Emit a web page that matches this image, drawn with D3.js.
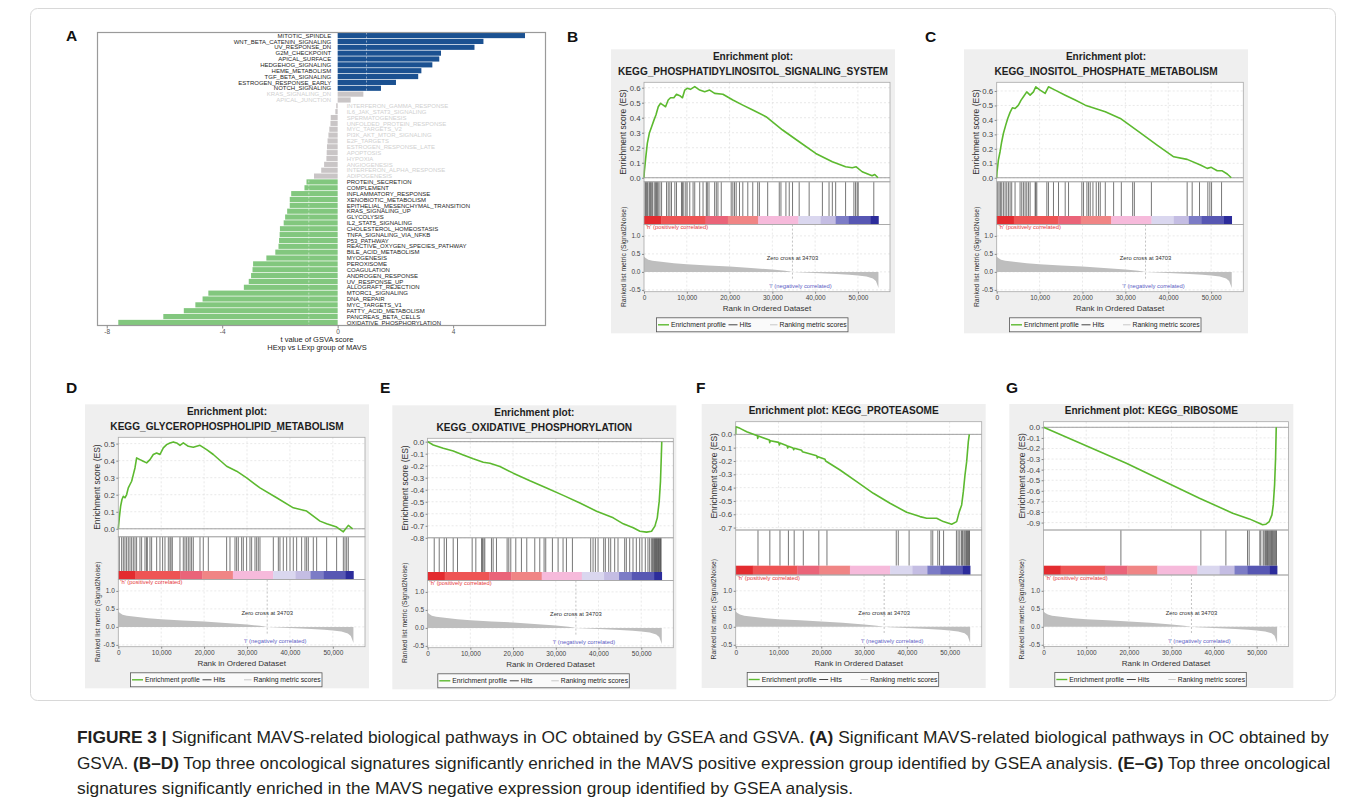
<!DOCTYPE html>
<html>
<head>
<meta charset="utf-8">
<script src="https://cdn.jsdelivr.net/npm/d3@7"></script>
<style>
  body { margin: 0; background: #fff; }
  svg { display: block; }
  text { font-family: "Liberation Sans", Arial, sans-serif; }
</style>
</head>
<body>
<div id="fig"></div>
<script>
// ---------- Panel A data (GSVA t values) ----------
var gsvaPathways = ["MITOTIC_SPINDLE", "WNT_BETA_CATENIN_SIGNALING", "UV_RESPONSE_DN", "G2M_CHECKPOINT",
  "APICAL_SURFACE", "HEDGEHOG_SIGNALING", "HEME_METABOLISM", "TGF_BETA_SIGNALING", "ESTROGEN_RESPONSE_EARLY",
  "NOTCH_SIGNALING", "KRAS_SIGNALING_DN", "APICAL_JUNCTION", "INTERFERON_GAMMA_RESPONSE", "IL6_JAK_STAT3_SIGNALING",
  "SPERMATOGENESIS", "UNFOLDED_PROTEIN_RESPONSE", "MYC_TARGETS_V2", "PI3K_AKT_MTOR_SIGNALING", "E2F_TARGETS",
  "ESTROGEN_RESPONSE_LATE", "APOPTOSIS", "HYPOXIA", "ANGIOGENESIS", "INTERFERON_ALPHA_RESPONSE", "ADIPOGENESIS",
  "PROTEIN_SECRETION", "COMPLEMENT", "INFLAMMATORY_RESPONSE", "XENOBIOTIC_METABOLISM",
  "EPITHELIAL_MESENCHYMAL_TRANSITION", "KRAS_SIGNALING_UP", "GLYCOLYSIS", "IL2_STAT5_SIGNALING",
  "CHOLESTEROL_HOMEOSTASIS", "TNFA_SIGNALING_VIA_NFKB", "P53_PATHWAY", "REACTIVE_OXYGEN_SPECIES_PATHWAY",
  "BILE_ACID_METABOLISM", "MYOGENESIS", "PEROXISOME", "COAGULATION", "ANDROGEN_RESPONSE", "UV_RESPONSE_UP",
  "ALLOGRAFT_REJECTION", "MTORC1_SIGNALING", "DNA_REPAIR", "MYC_TARGETS_V1", "FATTY_ACID_METABOLISM",
  "PANCREAS_BETA_CELLS", "OXIDATIVE_PHOSPHORYLATION"];
var gsvaTValues = [6.49, 5.05, 4.74, 3.58, 3.52, 3.28, 2.90, 2.79, 2.02, 1.50, 0.89, 0.45,
  -0.05, -0.08, -0.24, -0.25, -0.29, -0.32, -0.35, -0.37, -0.38, -0.39, -0.47, -0.57, -0.82,
  -1.08, -1.15, -1.61, -1.66, -1.66, -1.75, -1.82, -1.87, -2.00, -2.01, -2.03, -2.05, -2.16, -2.47,
  -2.93, -2.95, -3.00, -3.08, -3.25, -4.48, -4.68, -4.93, -5.33, -6.04, -7.60];
var gsvaTicks = [-8, -4, 0, 4];

// ---------- GSEA shared data ----------
var rankTicks = [0, 10000, 20000, 30000, 40000, 50000];
var metricTicks = [-0.5, 0.0, 0.5, 1.0];
var metricRanks = [0, 300, 1000, 2000, 4000, 7000, 10000, 15000, 20000, 25000, 30000, 33000, 34703,
  36000, 40000, 45000, 48000, 50000, 52000, 53500, 54200, 54600, 54800];
var metricValues = [0.43, 0.39, 0.34, 0.31, 0.28, 0.24, 0.21, 0.18, 0.15, 0.11, 0.065, 0.03, 0,
  -0.01, -0.03, -0.06, -0.08, -0.10, -0.13, -0.18, -0.25, -0.38, -0.45];
var colourBarBreaks = [0, 4000, 14400, 19600, 26700, 36100, 41300, 44800, 47800, 53000, 54800];
var colourBarColours = ["#e32b2f", "#ee5454", "#ea6479", "#f08585", "#f6badb", "#dad7ef", "#c4bde3",
  "#7c7cc6", "#5757b3", "#2c2c9b"];
var zeroCross = 34703;

var gseaTitles = [
  ["Enrichment plot:", "KEGG_PHOSPHATIDYLINOSITOL_SIGNALING_SYSTEM"],
  ["Enrichment plot:", "KEGG_INOSITOL_PHOSPHATE_METABOLISM"],
  ["Enrichment plot:", "KEGG_GLYCEROPHOSPHOLIPID_METABOLISM"],
  ["Enrichment plot:", "KEGG_OXIDATIVE_PHOSPHORYLATION"],
  ["Enrichment plot: KEGG_PROTEASOME"],
  ["Enrichment plot: KEGG_RIBOSOME"]
];

// running enrichment score, [rank, ES]
var esB = [[0, 0], [78, 0.04], [388, 0.129], [775, 0.229], [1240, 0.296], [1783, 0.34], [2325, 0.384],
  [2790, 0.418], [3333, 0.473], [3875, 0.496], [4495, 0.484], [5038, 0.473], [5658, 0.518], [6200, 0.533],
  [6975, 0.533], [7595, 0.556], [8370, 0.547], [8990, 0.533], [9533, 0.584], [10075, 0.596], [10850, 0.589],
  [11858, 0.607], [13020, 0.584], [14183, 0.573], [15345, 0.584], [16508, 0.562], [18445, 0.556],
  [20770, 0.518], [23095, 0.484], [25420, 0.451], [28520, 0.407], [32395, 0.318], [36270, 0.24],
  [40145, 0.162], [44020, 0.107], [47120, 0.073], [48670, 0.067], [49600, 0.073], [50995, 0.04],
  [53320, 0.013], [53940, 0.022], [54700, 0]];
var esC = [[0, 0], [78, 0.041], [390, 0.122], [779, 0.18], [1169, 0.249], [1558, 0.306], [2103, 0.364],
  [2571, 0.41], [3116, 0.452], [3661, 0.484], [4285, 0.479], [5064, 0.502], [5687, 0.537], [6232, 0.56],
  [7011, 0.594], [7790, 0.571], [8569, 0.594], [9114, 0.629], [10127, 0.606], [11296, 0.583], [12075, 0.629],
  [13633, 0.606], [15970, 0.571], [18307, 0.537], [20644, 0.502], [22981, 0.479], [25318, 0.456],
  [28830, 0.41], [33500, 0.31], [37400, 0.226], [41280, 0.145], [44410, 0.127], [47500, 0.088],
  [49090, 0.065], [50020, 0.072], [51420, 0.048], [52590, 0.048], [53760, 0.026], [54700, 0]];
var esD = [[0, 0], [233, 0.064], [544, 0.133], [855, 0.172], [1166, 0.191], [1554, 0.182], [1943, 0.201],
  [2331, 0.24], [2720, 0.26], [3108, 0.279], [3497, 0.318], [3885, 0.357], [4274, 0.416], [5051, 0.406],
  [5828, 0.396], [6605, 0.387], [7382, 0.406], [8159, 0.436], [8936, 0.445], [9713, 0.436], [10490, 0.475],
  [11267, 0.494], [12044, 0.504], [12821, 0.51], [13598, 0.504], [14375, 0.49], [15152, 0.504],
  [16317, 0.484], [17483, 0.479], [19040, 0.49], [20590, 0.465], [22145, 0.436], [25253, 0.367],
  [27584, 0.338], [29915, 0.299], [33023, 0.24], [36908, 0.182], [40793, 0.123], [43901, 0.104],
  [47009, 0.045], [48563, 0.03], [50895, 0.01], [52450, -0.018], [53613, 0.02], [54620, 0]];
var esE = [[0, 0], [1326, -0.028], [3666, -0.055], [6006, -0.077], [8346, -0.11], [10686, -0.143],
  [13026, -0.171], [14586, -0.179], [16926, -0.207], [20046, -0.262], [23946, -0.326], [27846, -0.386],
  [31746, -0.447], [35646, -0.51], [39546, -0.579], [43446, -0.634], [45786, -0.684], [48126, -0.717],
  [49686, -0.745], [51246, -0.753], [52416, -0.745], [53196, -0.703], [53750, -0.634], [54200, -0.497],
  [54500, -0.331], [54680, -0.138], [54800, 0]];
var esF = [[0, 0], [40, 0.057], [1013, 0.045], [2571, 0.02], [5064, -0.01], [5141, -0.03], [5297, -0.0125],
  [7868, -0.0425], [7946, -0.0625], [8102, -0.0475], [10049, -0.06], [10205, -0.08], [10361, -0.065],
  [11997, -0.085], [12152, -0.1025], [12308, -0.09], [13399, -0.1025], [13555, -0.115], [13710, -0.105],
  [15424, -0.12], [15580, -0.13], [18930, -0.16], [19086, -0.1775], [19241, -0.1675], [20877, -0.1875],
  [21033, -0.2], [24383, -0.2675], [28278, -0.355], [32173, -0.4425], [36068, -0.5175], [39963, -0.585],
  [43079, -0.6175], [44637, -0.63], [46974, -0.63], [48532, -0.655], [50479, -0.675], [51648, -0.655],
  [52271, -0.58], [52816, -0.53], [53206, -0.43], [53595, -0.305], [53985, -0.205], [54374, -0.055],
  [54608, 0]];
var esG = [[0, 0], [19422, -0.34], [36582, -0.67], [44382, -0.811], [48282, -0.865], [50622, -0.906],
  [51402, -0.921], [52182, -0.915], [52962, -0.89], [53586, -0.827], [53898, -0.733], [54210, -0.544],
  [54444, -0.292], [54600, 0]];

// hit positions (rank of gene-set members)
var hitsB = [230, 400, 620, 800, 1160, 1350, 1550, 1800, 2020, 2400, 2700, 2950, 3100, 3330, 3720, 4110,
  5270, 5660, 6050, 6430, 7210, 7600, 8760, 8990, 9300, 9770, 10080, 10700, 11470, 11860, 13020, 13800,
  14570, 14800, 15190, 16510, 16900, 17280, 18060, 20380, 20770, 21160, 21550, 22320, 23100, 24260,
  25420, 26580, 26970, 28910, 31620, 32010, 33170, 33950, 34720, 36270, 38600, 41700, 43250, 44020,
  44800, 47120, 49060, 49450, 49830, 50070, 53710];
var hitsC = [230, 545, 860, 1170, 1560, 1950, 2340, 2730, 3120, 3500, 4280, 5450, 5840, 6230, 6620, 7010,
  7400, 7790, 8960, 9110, 9350, 11690, 12070, 13240, 14410, 15970, 16750, 19860, 20250, 21030, 21420,
  21810, 22440, 23210, 23750, 24150, 25320, 27260, 29060, 31700, 32100, 36070, 44410, 45580, 47290,
  49230, 49700, 50100, 52430];
var hitsD = [230, 780, 1170, 1550, 1940, 2330, 2720, 3110, 3500, 3890, 4270, 5050, 5440, 6220, 6600, 6760,
  7380, 7770, 8940, 9710, 10330, 10880, 11660, 12040, 12280, 12590, 14370, 15150, 15540, 15930, 16320,
  16710, 17090, 17480, 19040, 19810, 20980, 25250, 26030, 27200, 27580, 27970, 28750, 29140, 29910,
  30690, 31080, 31860, 32250, 32630, 33020, 36130, 37300, 37680, 38460, 39240, 40020, 40790, 41570,
  42730, 43510, 43900, 44290, 45450, 46230, 48560, 50890, 52450, 52840, 53230, 53610];
var hitsE = [1550, 2720, 3890, 4430, 5990, 7000, 10430, 11290, 12620, 12850, 13160, 13390, 14950, 15340,
  16120, 18610, 19000, 19470, 20640, 21960, 23210, 25080, 26250, 27260, 27650, 29210, 30540, 31700,
  32490, 33890, 38170, 38720, 39260, 39890, 41210, 41600, 42380, 42850, 43780, 44560, 46120, 46510,
  47290, 48070, 48850, 49630, 50170, 50950, 51570, 51960, 52350, 52600, 52800, 53000, 53150, 53300,
  53450, 53600, 53750, 53900, 54050, 54200, 54350, 54500, 54650];
var hitsF = [5210, 7980, 10350, 12320, 13670, 15800, 19430, 21330, 37530, 38000, 40530, 45660, 46060,
  47240, 47640, 48590, 51590, 51980, 52380, 52770, 53010, 53330, 53560, 53800, 53960, 54200, 54350,
  54500, 54650];
var hitsG = [18140, 36910, 42780, 47860, 48250, 50750, 50990, 51530, 51770, 52080, 52320, 52560, 52700,
  52900, 53100, 53300, 53500, 53700, 53900, 54100, 54300, 54500, 54650];

var esTicksB = [0, 0.1, 0.2, 0.3, 0.4, 0.5, 0.6];
var esTicksD = [0, 0.1, 0.2, 0.3, 0.4, 0.5];
var esTicksE = [0, -0.1, -0.2, -0.3, -0.4, -0.5, -0.6, -0.7, -0.8];
var esTicksF = [0, -0.1, -0.2, -0.3, -0.4, -0.5, -0.6, -0.7];
var esTicksG = [0, -0.1, -0.2, -0.3, -0.4, -0.5, -0.6, -0.7, -0.8, -0.9];

var captionLines = [
  [["FIGURE 3 | ", true], ["Significant MAVS-related biological pathways in OC obtained by GSEA and GSVA. ", false],
   ["(A)", true], [" Significant MAVS-related biological pathways in OC obtained by", false]],
  [["GSVA. ", false], ["(B\u2013D)", true],
   [" Top three oncological signatures significantly enriched in the MAVS positive expression group identified by GSEA analysis. ", false],
   ["(E\u2013G)", true], [" Top three oncological", false]],
  [["signatures significantly enriched in the MAVS negative expression group identified by GSEA analysis.", false]]
];

// ---------- SVG ----------
var svg = d3.select("#fig").append("svg")
    .attr("width", 1355)
    .attr("height", 808);

svg.append("rect").attr("width", 1355).attr("height", 808).attr("fill", "#fff");

// figure border
svg.append("rect")
    .attr("x", 30.5).attr("y", 8.5)
    .attr("width", 1305).attr("height", 692)
    .attr("rx", 7)
    .attr("fill", "none")
    .attr("stroke", "#d8d8d8")
    .attr("stroke-width", 1);

// ---------- Panel A ----------
var aLeft = 97.5, aRight = 545.5, aTop = 32.5, aBottom = 325.5;
var xA = d3.scaleLinear().domain([-8.32, 7.2]).range([aLeft, aRight]);
var yA = d3.scaleBand().domain(gsvaPathways).range([aTop + 0.5, aBottom - 0.5]).paddingInner(0.12);

function barColour(v) {
    if (v > 1) return "#1b5191";
    if (v < -1) return "#82c77e";
    return "#c9c5c6";
}

var gA = svg.append("g");

gA.selectAll("rect.bar")
    .data(gsvaPathways)
    .enter().append("rect")
        .attr("class", "bar")
        .attr("x", function(d, i) { return xA(Math.min(0, gsvaTValues[i])); })
        .attr("width", function(d, i) { return Math.abs(xA(gsvaTValues[i]) - xA(0)); })
        .attr("y", function(d) { return yA(d); })
        .attr("height", yA.bandwidth())
        .attr("fill", function(d, i) { return barColour(gsvaTValues[i]); });

// threshold lines at +-1
gA.selectAll("line.thr")
    .data([-1, 1])
    .enter().append("line")
        .attr("x1", function(d) { return xA(d); })
        .attr("x2", function(d) { return xA(d); })
        .attr("y1", aTop)
        .attr("y2", aBottom)
        .attr("stroke", "#fff")
        .attr("stroke-opacity", 0.6)
        .attr("stroke-width", 0.8)
        .attr("stroke-dasharray", "2,2");

gA.selectAll("text.lab")
    .data(gsvaPathways)
    .enter().append("text")
        .attr("class", "lab")
        .attr("x", function(d, i) { return gsvaTValues[i] > 0 ? xA(0) - 6.5 : xA(0) + 9; })
        .attr("y", function(d) { return yA(d) + yA.bandwidth() / 2; })
        .attr("dy", "0.36em")
        .attr("text-anchor", function(d, i) { return gsvaTValues[i] > 0 ? "end" : "start"; })
        .attr("fill", function(d, i) { return Math.abs(gsvaTValues[i]) > 1 ? "#1e1e1e" : "#d0d0d0"; })
        .style("font-size", "6px")
        .text(function(d) { return d; });

gA.append("rect")
    .attr("x", aLeft).attr("y", aTop)
    .attr("width", aRight - aLeft).attr("height", aBottom - aTop)
    .attr("fill", "none")
    .attr("stroke", "#9a9a9a")
    .attr("stroke-width", 1.2);

var axA = gA.append("g")
    .attr("transform", "translate(0," + aBottom + ")")
    .call(d3.axisBottom(xA).tickValues(gsvaTicks).tickSize(3).tickPadding(1)
        .tickFormat(function(d) { return String(d); }));
axA.select(".domain").remove();
axA.selectAll("line").attr("stroke", "#8a8a8a");
axA.selectAll("text").attr("fill", "#555").style("font-size", "6.5px");

gA.append("text")
    .attr("x", 317).attr("y", 341.5)
    .attr("text-anchor", "middle")
    .attr("fill", "#222")
    .style("font-size", "7.5px")
    .text("t value of GSVA score");
gA.append("text")
    .attr("x", 317).attr("y", 349.5)
    .attr("text-anchor", "middle")
    .attr("fill", "#222")
    .style("font-size", "7.5px")
    .text("HExp vs LExp group of MAVS");

// ---------- GSEA panels ----------
var layouts = {
    two: { titleY: [10.7, 25.7], esTop: 33, esBottom: 132.5, cbTop: 166.7, cbBottom: 175.3, mBottom: 242.4 },
    one: { titleY: [10.3], esTop: 17.7, esBottom: 126, cbTop: 161.7, cbBottom: 171, mBottom: 242.6 }
};

var gseaPanels = [
    { x: 611, y: 49.3, left: 33, right: 279, title: gseaTitles[0], es: esB, hits: hitsB, esDomain: [-0.027, 0.636], esTicks: esTicksB },
    { x: 964, y: 49.3, left: 32.7, right: 279.3, title: gseaTitles[1], es: esC, hits: hitsC, esDomain: [-0.028, 0.66], esTicks: esTicksB },
    { x: 85, y: 404.3, left: 33.3, right: 280, title: gseaTitles[2], es: esD, hits: hitsD, esDomain: [-0.047, 0.537], esTicks: esTicksD },
    { x: 392.3, y: 405.3, left: 35.3, right: 281, title: gseaTitles[3], es: esE, hits: hitsE, esDomain: [-0.8, 0.028], esTicks: esTicksE },
    { x: 701.7, y: 404, left: 34, right: 280, title: gseaTitles[4], es: esF, hits: hitsF, esDomain: [-0.718, 0.095], esTicks: esTicksF },
    { x: 1009.3, y: 404, left: 34.3, right: 279.3, title: gseaTitles[5], es: esG, hits: hitsG, esDomain: [-0.97, 0.053], esTicks: esTicksG }
];

var metricPts = metricRanks.map(function(r, i) { return [r, metricValues[i]]; });
var barSegs = colourBarColours.map(function(c, i) { return [colourBarBreaks[i], colourBarBreaks[i + 1], c]; });

function drawGsea(p) {
    var lay = p.title.length === 2 ? layouts.two : layouts.one;
    var W = 284, H = 284;
    var L = p.left, R = p.right;
    var g = svg.append("g").attr("transform", "translate(" + p.x + "," + p.y + ")");

    g.append("rect").attr("width", W).attr("height", H).attr("fill", "#efefef");

    var xs = d3.scaleLinear().domain([0, 57500]).range([L, R]);
    var ys = d3.scaleLinear().domain(p.esDomain).range([lay.esBottom, lay.esTop]);
    var ym = d3.scaleLinear()
        .domain([-0.55, -0.55 + (lay.mBottom - lay.cbBottom) / 36])
        .range([lay.mBottom, lay.cbBottom]);

    g.append("rect")
        .attr("x", L).attr("y", lay.esTop)
        .attr("width", R - L).attr("height", lay.mBottom - lay.esTop)
        .attr("fill", "#fff");

    // grid
    var grid = g.append("g")
        .attr("stroke", "#dadada")
        .attr("stroke-width", 0.6)
        .attr("stroke-dasharray", "2,2");
    grid.selectAll("line.vE").data(rankTicks.slice(1)).enter().append("line")
        .attr("x1", function(d) { return xs(d); }).attr("x2", function(d) { return xs(d); })
        .attr("y1", lay.esTop).attr("y2", lay.esBottom);
    grid.selectAll("line.vM").data(rankTicks.slice(1)).enter().append("line")
        .attr("x1", function(d) { return xs(d); }).attr("x2", function(d) { return xs(d); })
        .attr("y1", lay.cbBottom).attr("y2", lay.mBottom);
    grid.selectAll("line.hE").data(p.esTicks).enter().append("line")
        .attr("x1", L).attr("x2", R)
        .attr("y1", function(d) { return ys(d); }).attr("y2", function(d) { return ys(d); });
    grid.selectAll("line.hM").data(metricTicks).enter().append("line")
        .attr("x1", L).attr("x2", R)
        .attr("y1", function(d) { return ym(d); }).attr("y2", function(d) { return ym(d); });

    // ranked list metric
    g.append("path")
        .datum(metricPts)
        .attr("d", d3.area()
            .x(function(d) { return xs(d[0]); })
            .y0(ym(0))
            .y1(function(d) { return ym(d[1]); }))
        .attr("fill", "#bebebe");

    g.append("line")
        .attr("x1", xs(zeroCross)).attr("x2", xs(zeroCross))
        .attr("y1", lay.cbBottom).attr("y2", ym(-0.2))
        .attr("stroke", "#9a9a9a")
        .attr("stroke-width", 0.6)
        .attr("stroke-dasharray", "2,2");

    g.append("text")
        .attr("x", xs(zeroCross)).attr("y", ym(0.33))
        .attr("text-anchor", "middle")
        .attr("fill", "#333")
        .style("font-size", "5.8px")
        .text("Zero cross at " + zeroCross);
    g.append("text")
        .attr("x", L + 2).attr("y", lay.cbBottom + 4.8)
        .attr("fill", "#e5383b")
        .style("font-size", "5.8px")
        .text("'h' (positively correlated)");
    g.append("text")
        .attr("x", xs(zeroCross) + 8).attr("y", ym(-0.45))
        .attr("text-anchor", "middle")
        .attr("fill", "#5b5bc4")
        .style("font-size", "5.8px")
        .text("'l' (negatively correlated)");

    // hits
    g.selectAll("line.hit").data(p.hits).enter().append("line")
        .attr("x1", function(d) { return xs(d); }).attr("x2", function(d) { return xs(d); })
        .attr("y1", lay.esBottom).attr("y2", lay.cbTop)
        .attr("stroke", "#3c3c3c")
        .attr("stroke-width", 0.7);

    // colour bar
    g.selectAll("rect.cb").data(barSegs).enter().append("rect")
        .attr("x", function(d) { return xs(d[0]); })
        .attr("width", function(d) { return xs(d[1]) - xs(d[0]) + 0.3; })
        .attr("y", lay.cbTop)
        .attr("height", lay.cbBottom - lay.cbTop)
        .attr("fill", function(d) { return d[2]; });

    // ES zero line and curve
    g.append("line")
        .attr("x1", L).attr("x2", R)
        .attr("y1", ys(0)).attr("y2", ys(0))
        .attr("stroke", "#8a8a8a")
        .attr("stroke-width", 0.8);

    g.append("path")
        .datum(p.es)
        .attr("d", d3.line()
            .x(function(d) { return xs(d[0]); })
            .y(function(d) { return ys(d[1]); }))
        .attr("fill", "none")
        .attr("stroke", "#5cb92f")
        .attr("stroke-width", 1.6)
        .attr("stroke-linejoin", "round");

    // frames
    [[lay.esTop, lay.esBottom], [lay.esBottom, lay.cbBottom], [lay.cbBottom, lay.mBottom]].forEach(function(b) {
        g.append("rect")
            .attr("x", L).attr("y", b[0])
            .attr("width", R - L).attr("height", b[1] - b[0])
            .attr("fill", "none")
            .attr("stroke", "#a8a8a8")
            .attr("stroke-width", 0.8);
    });

    // axes
    var axE = g.append("g")
        .attr("transform", "translate(" + L + ",0)")
        .call(d3.axisLeft(ys).tickValues(p.esTicks).tickSize(2).tickPadding(1.5)
            .tickFormat(function(d) { return d.toFixed(1); }));
    axE.select(".domain").remove();
    axE.selectAll("line").attr("stroke", "#888");
    axE.selectAll("text").attr("fill", "#444").style("font-size", "7.8px");

    var axM = g.append("g")
        .attr("transform", "translate(" + L + ",0)")
        .call(d3.axisLeft(ym).tickValues(metricTicks).tickSize(2).tickPadding(1.5)
            .tickFormat(function(d) { return d.toFixed(1); }));
    axM.select(".domain").remove();
    axM.selectAll("line").attr("stroke", "#888");
    axM.selectAll("text").attr("fill", "#444").style("font-size", "6.5px");

    var axX = g.append("g")
        .attr("transform", "translate(0," + lay.mBottom + ")")
        .call(d3.axisBottom(xs).tickValues(rankTicks).tickSize(2).tickPadding(2)
            .tickFormat(d3.format(",")));
    axX.select(".domain").remove();
    axX.selectAll("line").attr("stroke", "#888");
    axX.selectAll("text").attr("fill", "#444").style("font-size", "6.5px");

    // labels
    g.selectAll("text.ttl").data(p.title).enter().append("text")
        .attr("x", W / 2)
        .attr("y", function(d, i) { return lay.titleY[i]; })
        .attr("text-anchor", "middle")
        .attr("fill", "#1e1e1e")
        .style("font-size", "10.1px")
        .style("font-weight", "bold")
        .text(function(d) { return d; });

    g.append("text")
        .attr("transform", "translate(12.3," + ((lay.esTop + lay.esBottom) / 2) + ")rotate(-90)")
        .attr("text-anchor", "middle")
        .attr("dy", "0.35em")
        .attr("fill", "#333")
        .style("font-size", "8.5px")
        .text("Enrichment score (ES)");
    g.append("text")
        .attr("transform", "translate(12.3," + ((lay.cbTop + lay.mBottom) / 2 + 3) + ")rotate(-90)")
        .attr("text-anchor", "middle")
        .attr("dy", "0.35em")
        .attr("fill", "#333")
        .style("font-size", "6.8px")
        .text("Ranked list metric (Signal2Noise)");
    g.append("text")
        .attr("x", (L + R) / 2).attr("y", 261.7)
        .attr("text-anchor", "middle")
        .attr("fill", "#333")
        .style("font-size", "8px")
        .text("Rank in Ordered Dataset");

    // legend
    var lg = g.append("g").attr("transform", "translate(0,268.5)");
    lg.append("rect")
        .attr("x", 45.5).attr("width", 191.5).attr("height", 14)
        .attr("fill", "#fafafa")
        .attr("stroke", "#555")
        .attr("stroke-width", 0.8);
    var items = [[47, 58, "#5cb92f", 1.4, 60, "Enrichment profile"],
                 [117.5, 126.5, "#444", 1, 128.5, "Hits"],
                 [159, 166.5, "#c8c8c8", 1, 168.5, "Ranking metric scores"]];
    items.forEach(function(it) {
        lg.append("line")
            .attr("x1", it[0]).attr("x2", it[1])
            .attr("y1", 7).attr("y2", 7)
            .attr("stroke", it[2]).attr("stroke-width", it[3]);
        lg.append("text")
            .attr("x", it[4]).attr("y", 7)
            .attr("dy", "0.35em")
            .attr("fill", "#222")
            .style("font-size", "6.8px")
            .text(it[5]);
    });
}

gseaPanels.forEach(drawGsea);

// ---------- panel letters ----------
var letters = [["A", 66, 41], ["B", 567, 42], ["C", 925, 42], ["D", 66, 393],
               ["E", 380, 393], ["F", 696, 393], ["G", 1006, 393]];
svg.selectAll("text.letter").data(letters).enter().append("text")
    .attr("x", function(d) { return d[1]; })
    .attr("y", function(d) { return d[2]; })
    .attr("fill", "#111")
    .style("font-size", "15.5px")
    .style("font-weight", "bold")
    .text(function(d) { return d[0]; });

// ---------- caption ----------
var capY = [743, 768.5, 793.5];
var capW = [1253, 1254, null];
var capScale = 1;
captionLines.forEach(function(line, li) {
    var t = svg.append("text")
        .attr("fill", "#231f20")
        .style("font-size", "16.5px");
    line.forEach(function(part) {
        t.append("tspan")
            .style("font-weight", part[1] ? "bold" : "normal")
            .text(part[0]);
    });
    var natural = t.node().getComputedTextLength();
    var s = capW[li] ? capW[li] / natural : capScale;
    if (li === 0) capScale = s;
    t.attr("transform", "translate(77," + capY[li] + ") scale(" + s + ",1)");
});
</script>
</body>
</html>
